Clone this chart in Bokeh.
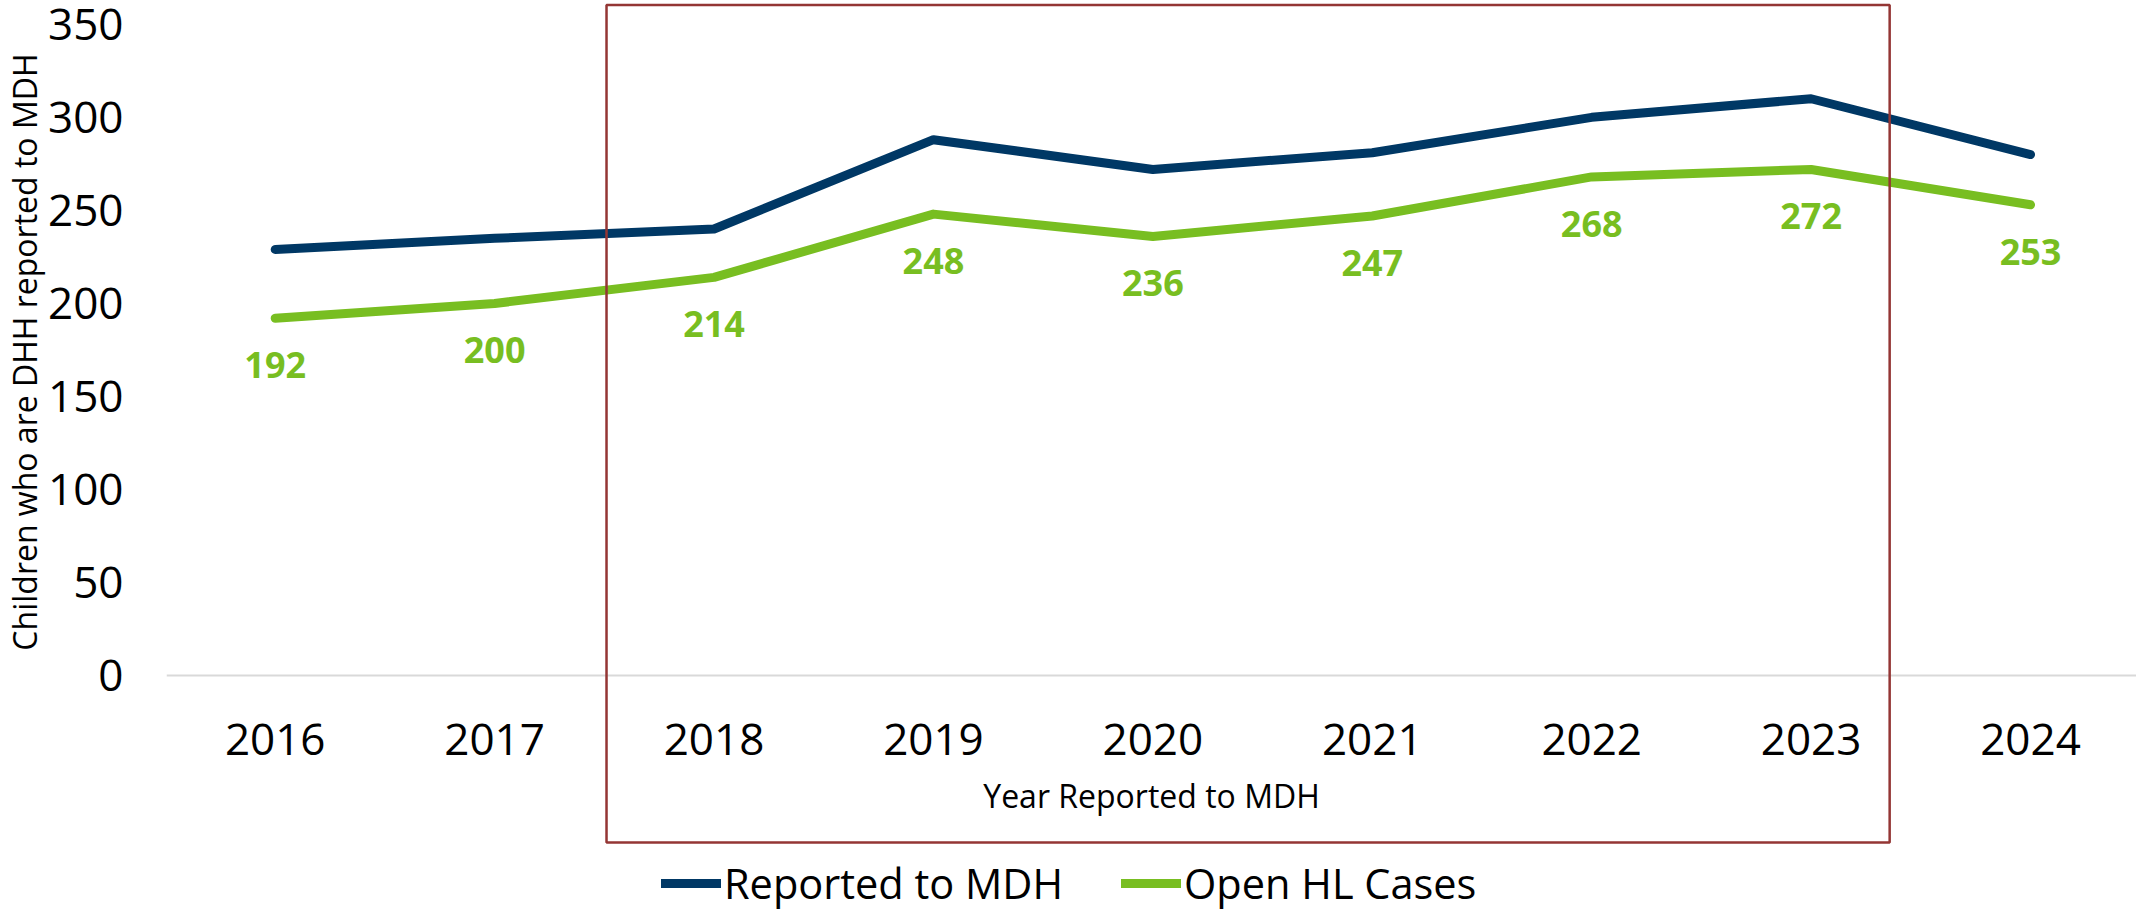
from bokeh.plotting import figure
from bokeh.models import Range1d, FixedTicker, BoxAnnotation, ColumnDataSource, Title
from bokeh.core.properties import value
from bokeh.embed import file_html
from bokeh.resources import INLINE

# ---- data ----
years = [2016, 2017, 2018, 2019, 2020, 2021, 2022, 2023, 2024]
reported_to_mdh = [229, 235, 240, 288, 272, 281, 300, 310, 280]
open_hl_cases = [192, 200, 214, 248, 236, 247, 268, 272, 253]
y_ticks = [0, 50, 100, 150, 200, 250, 300, 350]
x_title = "Year Reported to MDH"
y_title = "Children who are DHH reported to MDH"
series_names = ["Reported to MDH", "Open HL Cases"]
highlight_x = (2017.51, 2023.358)
highlight_y = (-89.75, 360.4)

BLUE = "#003865"
GREEN = "#78BE21"
BOX = "#943634"
FONT = "Open Sans"

p = figure(width=2136, height=911, output_backend="svg", toolbar_location=None,
           x_range=Range1d(2015.5046, 2024.483), y_range=Range1d(-126.8, 362.8),
           min_border_left=100, min_border_right=0, min_border_top=0,
           min_border_bottom=0, outline_line_color=None)
p.background_fill_color = "white"
p.border_fill_color = "white"
p.grid.visible = False

# x axis, pinned at y = 0
xa = p.xaxis[0]
xa.fixed_location = 0
xa.ticker = FixedTicker(ticks=years)
xa.major_label_overrides = {y: str(y) for y in years}
xa.major_label_text_font = FONT
xa.major_label_text_font_size = "44px"
xa.major_label_text_color = "black"
xa.major_label_standoff = 42
xa.major_tick_line_color = None
xa.minor_tick_line_color = None
xa.axis_line_color = "#D9D9D9"
xa.axis_line_width = 2
xa.axis_label = x_title
xa.axis_label_text_font = FONT
xa.axis_label_text_font_size = "32px"
xa.axis_label_text_font_style = "normal"
xa.axis_label_text_color = "black"
xa.axis_label_standoff = 16

# y axis
ya = p.yaxis[0]
ya.ticker = FixedTicker(ticks=y_ticks)
ya.major_label_text_font = FONT
ya.major_label_text_font_size = "44px"
ya.major_label_text_color = "black"
ya.major_label_standoff = 37
ya.major_tick_line_color = None
ya.minor_tick_line_color = None
ya.axis_line_color = None

ytitle = Title(text=y_title, align="right", offset=53, standoff=0,
               text_font=FONT, text_font_size="32px", text_font_style="normal",
               text_color="black")
p.add_layout(ytitle, "left")

src = ColumnDataSource(dict(x=years, rep=reported_to_mdh, hl=open_hl_cases,
                            lbl=[str(v) for v in open_hl_cases]))

p.line("x", "rep", source=src, line_color=BLUE, line_width=9,
       line_cap="round", line_join="round", legend_label=series_names[0])
p.line("x", "hl", source=src, line_color=GREEN, line_width=9,
       line_cap="round", line_join="round", legend_label=series_names[1])

p.text("x", "hl", text="lbl", source=src, text_font=value(FONT),
       text_font_style="bold", text_font_size="36px", text_color=GREEN,
       text_align="center", text_baseline="middle", y_offset=47)

box = BoxAnnotation(left=highlight_x[0], right=highlight_x[1],
                    bottom=highlight_y[0], top=highlight_y[1],
                    fill_alpha=0, fill_color=None, line_color=BOX,
                    line_alpha=1.0, line_width=2.5, level="overlay")
p.add_layout(box)

lg = p.legend[0]
lg.orientation = "horizontal"
lg.location = (495, 0)
lg.border_line_color = None
lg.background_fill_alpha = 0
lg.padding = 0
lg.margin = 0
lg.spacing = 58
lg.glyph_width = 60
lg.glyph_height = 20
lg.label_standoff = 3
lg.label_text_font = FONT
lg.label_text_font_size = "41.5px"
lg.label_text_color = "black"

open("out.html", "w").write(file_html(p, INLINE))
